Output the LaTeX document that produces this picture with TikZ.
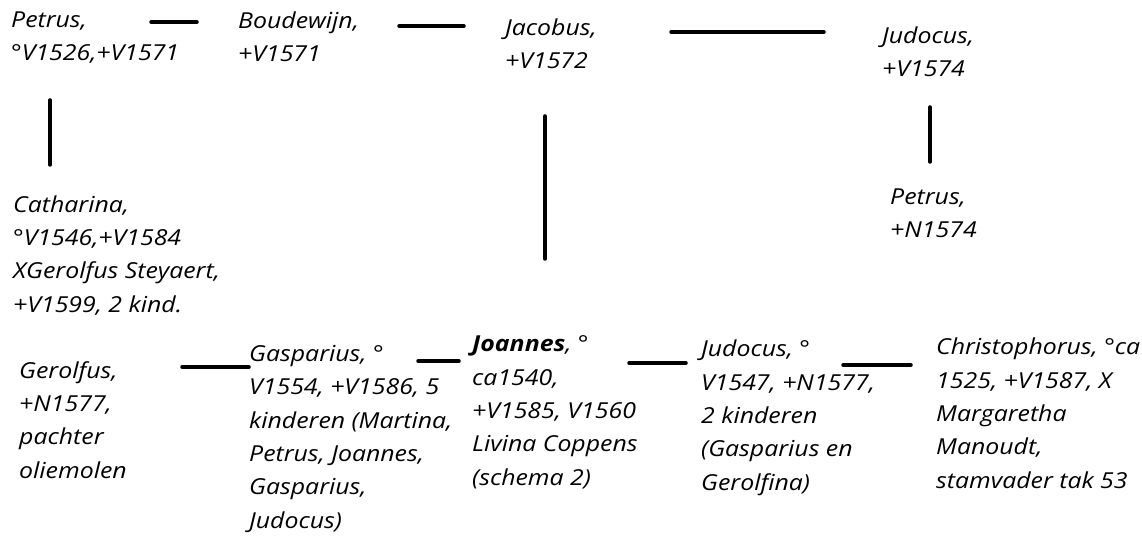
\documentclass[tikz,border=0pt]{standalone}
\usepackage{fontspec}
\setmainfont{Open Sans}[ItalicFeatures={FakeStretch=1.13},BoldItalicFeatures={FakeStretch=1.13}]
\begin{document}
\begin{tikzpicture}[x=1pt,y=-1pt,
  txt/.style={anchor=base west, inner sep=0pt, align=left,
    font=\fontsize{22}{33.3}\selectfont\itshape},
  link/.style={line width=3.5pt, line cap=round, black}]
\useasboundingbox[fill=white] (0,0) rectangle (1142,537);
% nodes (positioned by the baseline of their last line)
\node[txt] (petrus1) at (11,61) {Petrus,\\°V1526,+V1571};
\node[txt] (boud) at (238,62) {Boudewijn,\\+V1571};
\node[txt] (jac) at (505,69) {Jacobus,\\+V1572};
\node[txt] (jud1) at (882,77) {Judocus,\\+V1574};
\node[txt] (petrus2) at (890,238) {Petrus,\\+N1574};
\node[txt] (cath) at (13,312) {Catharina,\\°V1546,+V1584\\XGerolfus Steyaert,\\+V1599, 2 kind.};
\node[txt] (gerolf) at (19,478) {Gerolfus,\\+N1577,\\pachter\\oliemolen};
\node[txt] (gasp) at (249,528) {Gasparius, °\\V1554, +V1586, 5\\kinderen (Martina,\\Petrus, Joannes,\\Gasparius,\\Judocus)};
\node[txt] (joan) at (472,485) {\textbf{Joannes}, °\\ca1540,\\+V1585, V1560\\Livina Coppens\\(schema 2)};
\node[txt] (jud2) at (701,490) {Judocus, °\\V1547, +N1577,\\2 kinderen\\(Gasparius en\\Gerolfina)};
\node[txt] (chris) at (936,488) {Christophorus, °ca\\1525, +V1587, X\\Margaretha\\Manoudt,\\stamvader tak 53};
% connector end points
\coordinate (pb1) at (151,22);  \coordinate (pb2) at (197,22);
\coordinate (bj1) at (399,26);  \coordinate (bj2) at (464,26);
\coordinate (jj1) at (671,32);  \coordinate (jj2) at (824,32);
\coordinate (pc1) at (50,100);  \coordinate (pc2) at (50,165);
\coordinate (jo1) at (545,116); \coordinate (jo2) at (545,259);
\coordinate (jp1) at (930,107); \coordinate (jp2) at (930,162);
\coordinate (gg1) at (182,367); \coordinate (gg2) at (249,367);
\coordinate (gj1) at (418,361); \coordinate (gj2) at (459,361);
\coordinate (jd1) at (629,363); \coordinate (jd2) at (686,363);
\coordinate (dc1) at (843,365); \coordinate (dc2) at (911,365);
% connectors
\draw[link] (pb1) -- (pb2);
\draw[link] (bj1) -- (bj2);
\draw[link] (jj1) -- (jj2);
\draw[link] (pc1) -- (pc2);
\draw[link] (jo1) -- (jo2);
\draw[link] (jp1) -- (jp2);
\draw[link] (gg1) -- (gg2);
\draw[link] (gj1) -- (gj2);
\draw[link] (jd1) -- (jd2);
\draw[link] (dc1) -- (dc2);
\end{tikzpicture}
\end{document}
